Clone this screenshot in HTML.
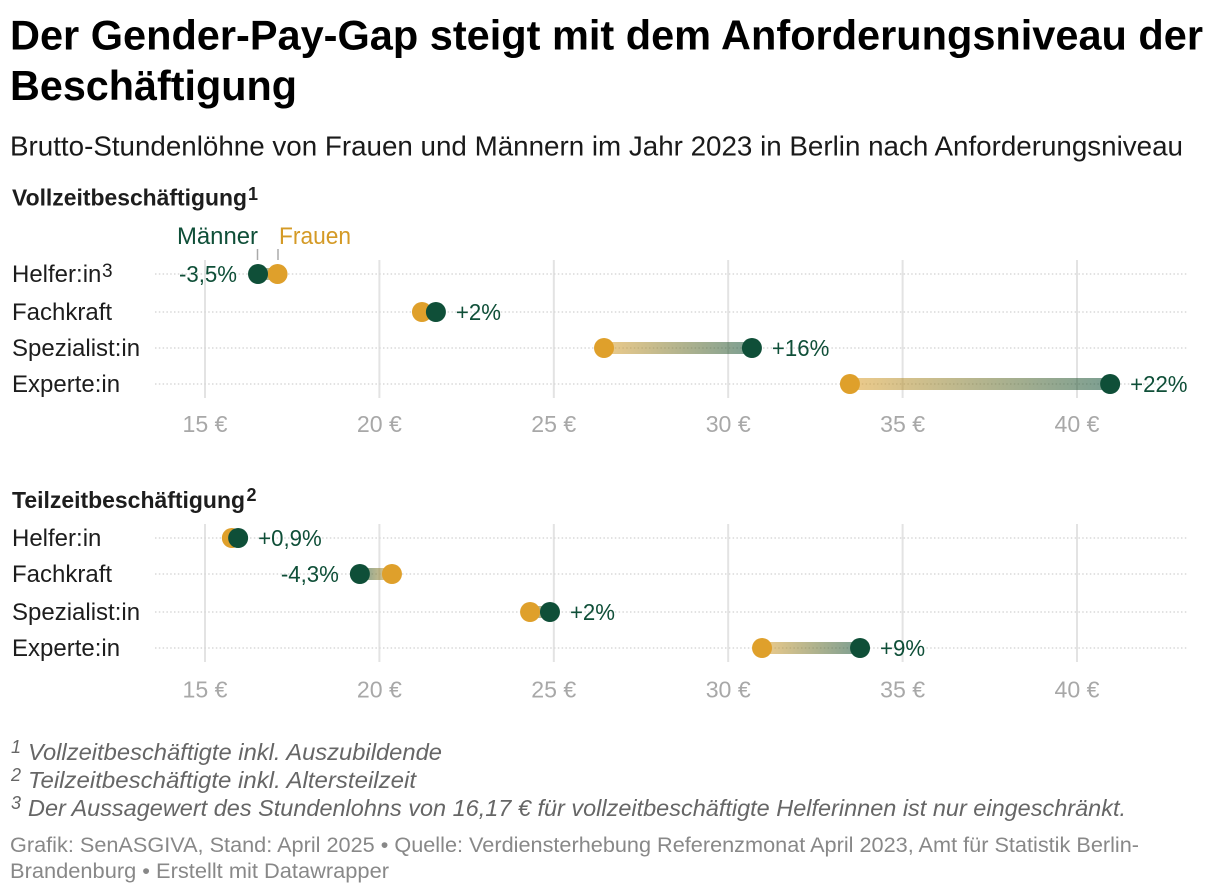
<!DOCTYPE html>
<html lang="de">
<head>
<meta charset="utf-8">
<title>Gender-Pay-Gap</title>
<style>
html,body{margin:0;padding:0;background:#fff;width:1220px;height:896px;overflow:hidden}
svg{display:block;font-family:"Liberation Sans",sans-serif}
</style>
</head>
<body>
<svg id="chart" xmlns="http://www.w3.org/2000/svg" width="1220" height="896" viewBox="0 0 1220 896">
<defs>
<linearGradient id="grad-right" x1="0" x2="1" y1="0" y2="0"><stop offset="0" stop-color="#dfa02b" stop-opacity=".55"/><stop offset="1" stop-color="#0f4f38" stop-opacity=".55"/></linearGradient>
<linearGradient id="grad-left" x1="0" x2="1" y1="0" y2="0"><stop offset="0" stop-color="#0f4f38" stop-opacity=".55"/><stop offset="1" stop-color="#dfa02b" stop-opacity=".55"/></linearGradient>
</defs>
<rect width="1220" height="896" fill="#fff"/>
<text x="10" y="49.500" font-size="42" font-weight="700" fill="#000" textLength="1193" lengthAdjust="spacingAndGlyphs">Der Gender-Pay-Gap steigt mit dem Anforderungsniveau der</text>
<text x="10" y="100" font-size="42" font-weight="700" fill="#000" textLength="287" lengthAdjust="spacingAndGlyphs">Beschäftigung</text>
<text x="10" y="155.500" font-size="27.500" fill="#1a1a1a" textLength="1173" lengthAdjust="spacingAndGlyphs">Brutto-Stundenlöhne von Frauen und Männern im Jahr 2023 in Berlin nach Anforderungsniveau</text>

<text x="12" y="205.500" font-size="23.500" font-weight="700" fill="#1d1d1d" textLength="235" lengthAdjust="spacingAndGlyphs">Vollzeitbeschäftigung</text>
<text x="248" y="200" font-size="18" font-weight="700" fill="#1d1d1d">1</text>
<text x="12" y="508" font-size="23.500" font-weight="700" fill="#1d1d1d" textLength="233" lengthAdjust="spacingAndGlyphs">Teilzeitbeschäftigung</text>
<text x="246.500" y="501" font-size="18" font-weight="700" fill="#1d1d1d">2</text>

<g id="plots"></g>

<text x="177" y="244" font-size="24" fill="#0f4f38" textLength="81" lengthAdjust="spacingAndGlyphs">Männer</text>
<text x="279" y="244" font-size="24" fill="#d49a26" textLength="72" lengthAdjust="spacingAndGlyphs">Frauen</text>
<line x1="257.500" x2="257.500" y1="249" y2="260" stroke="#aaa" stroke-width="1.500"/>
<line x1="278" x2="278" y1="249" y2="260" stroke="#aaa" stroke-width="1.500"/>
<text x="102" y="277" font-size="19" fill="#1d1d1d">3</text>

<text x="11" y="753" font-size="18" font-style="italic" fill="#666">1</text>
<text x="28" y="760" font-size="23.500" font-style="italic" fill="#666" textLength="414" lengthAdjust="spacingAndGlyphs">Vollzeitbeschäftigte inkl. Auszubildende</text>
<text x="11" y="781" font-size="18" font-style="italic" fill="#666">2</text>
<text x="28" y="788" font-size="23.500" font-style="italic" fill="#666" textLength="388" lengthAdjust="spacingAndGlyphs">Teilzeitbeschäftigte inkl. Altersteilzeit</text>
<text x="11" y="809" font-size="18" font-style="italic" fill="#666">3</text>
<text x="28" y="816" font-size="23.500" font-style="italic" fill="#666" textLength="1098" lengthAdjust="spacingAndGlyphs">Der Aussagewert des Stundenlohns von 16,17 € für vollzeitbeschäftigte Helferinnen ist nur eingeschränkt.</text>
<text x="10" y="852" font-size="21" fill="#888" textLength="1129" lengthAdjust="spacingAndGlyphs">Grafik: SenASGIVA, Stand: April 2025 • Quelle: Verdiensterhebung Referenzmonat April 2023, Amt für Statistik Berlin-</text>
<text x="10" y="878" font-size="21" fill="#888" textLength="379" lengthAdjust="spacingAndGlyphs">Brandenburg • Erstellt mit Datawrapper</text>
</svg>
<script>
const categories = ['Helfer:in', 'Fachkraft', 'Spezialist:in', 'Experte:in'];
const tickValues = [15, 20, 25, 30, 35, 40];
const tickLabels = ['15 €', '20 €', '25 €', '30 €', '35 €', '40 €'];
const vollzeitFrauen = [17.08, 21.22, 26.44, 33.49];
const vollzeitMaenner = [16.52, 21.62, 30.68, 40.95];
const vollzeitGap = ['-3,5%', '+2%', '+16%', '+22%'];
const teilzeitFrauen = [15.77, 20.36, 24.32, 30.97];
const teilzeitMaenner = [15.95, 19.44, 24.89, 33.78];
const teilzeitGap = ['+0,9%', '-4,3%', '+2%', '+9%'];

const NS = 'http://www.w3.org/2000/svg';
const root = document.getElementById('plots');
const xScale = v => 205 + (v - 15) * 34.88;

function make(tag, attrs, text) {
  const el = document.createElementNS(NS, tag);
  for (const k in attrs) el.setAttribute(k, attrs[k]);
  if (text !== undefined) el.textContent = text;
  root.appendChild(el);
  return el;
}

function drawPanel(prefix, rowY, top, bottom, tickY, women, men, gaps) {
  tickValues.forEach((t, i) => {
    const grid = make('line', {x1: xScale(t), x2: xScale(t), y1: top, y2: bottom, stroke: '#e3e3e3', 'stroke-width': 2});
    
    
    const label = make('text', {x: xScale(t), y: tickY, 'font-size': 23.5, fill: '#a8a8a8', 'text-anchor': 'middle', textLength: 45, lengthAdjust: 'spacingAndGlyphs'}, tickLabels[i]);
    
    
  });
  categories.forEach((c, i) => {
    const y = rowY[i];
    const row = make('line', {x1: 155, x2: 1187, y1: y, y2: y, stroke: '#d9d9d9', 'stroke-width': 1.5, 'stroke-dasharray': '1.5 2.3'});
    
    
    const name = make('text', {x: 12, y: y + 8, 'font-size': 24, fill: '#1d1d1d'}, c);
    
    
    const xw = xScale(women[i]);
    const xm = xScale(men[i]);
    const left = Math.min(xw, xm);
    const right = Math.max(xw, xm);
    const bar = make('rect', {x: left, y: y - 6, width: right - left, height: 12, fill: xm > xw ? 'url(#grad-right)' : 'url(#grad-left)'});
    
    
    const dotW = make('circle', {cx: xw, cy: y, r: 10, fill: '#dfa02b'});
    
    
    const dotM = make('circle', {cx: xm, cy: y, r: 10, fill: '#0f4f38'});
    
    
    const isRight = xm >= xw;
    const gap = make('text', {x: isRight ? right + 20 : left - 21, y: y + 8, 'font-size': 23.5, fill: '#0f4f38', 'text-anchor': isRight ? 'start' : 'end', lengthAdjust: 'spacingAndGlyphs'}, gaps[i]);
    
    
    gap.setAttribute('textLength', gap.getComputedTextLength() * 0.945);
  });
}

drawPanel('vollzeit', [274, 312, 348, 384], 260, 398, 432, vollzeitFrauen, vollzeitMaenner, vollzeitGap);
drawPanel('teilzeit', [538, 574, 612, 648], 524, 662, 697.5, teilzeitFrauen, teilzeitMaenner, teilzeitGap);
</script>
</body>
</html>
